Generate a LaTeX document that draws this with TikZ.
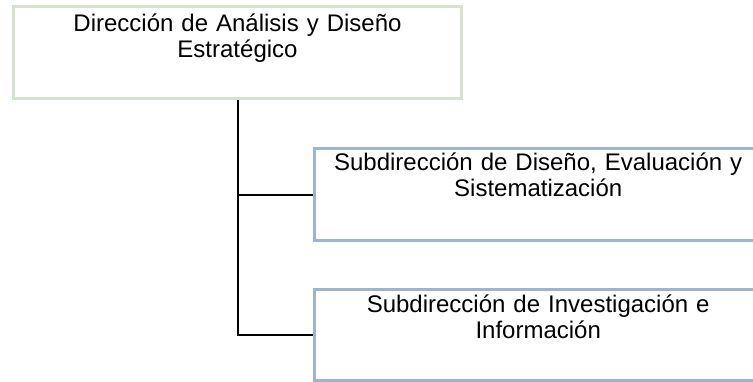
\documentclass[tikz,border=0pt]{standalone}
\usepackage{fontspec}
\setmainfont{Liberation Sans}
\usepackage{xcolor}
\usepackage{tikz}
\definecolor{dirgreen}{RGB}{213,227,206}
\definecolor{subblue}{RGB}{158,179,212}
\tikzstyle{orgbox} = [draw, rectangle, line width=3pt, text width=440pt, inner xsep=4pt, inner ysep=0pt, align=center, font=\fontsize{24}{26}\selectfont]
\tikzstyle{line} = [line width=2pt, black]

\begin{document}
\begin{tikzpicture}[x=1pt, y=-1pt]
    \useasboundingbox (0,0) rectangle (753,381);
    \clip (0,0) rectangle (753,381);
    \node[orgbox, draw=dirgreen, text height=25.8pt, text depth=66.7pt] (dir) at (237.5,52.4) {Dirección de Análisis y Diseño\\ Estratégico};
    \node[orgbox, draw=subblue, text height=22pt, text depth=70pt] (subdis) at (538.2,194.5) {Subdirección de Diseño, Evaluación y\\ Sistematización};
    \node[orgbox, draw=subblue, text height=22.5pt, text depth=68.5pt] (subinv) at (538.2,335) {Subdirección de Investigación e\\ Información};
    \draw[line] (dir.south) |- (subdis.west);
    \draw[line] (dir.south) |- (subinv.west);
\end{tikzpicture}
\end{document}
